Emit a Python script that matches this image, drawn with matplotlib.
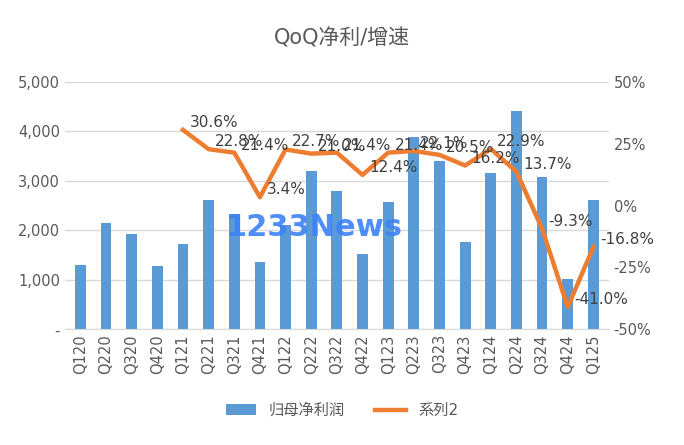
import glob
import matplotlib.pyplot as plt
from matplotlib import font_manager
from matplotlib.ticker import FuncFormatter

# locate a CJK sans font file and register it by its real name
paths = [f.fname for f in font_manager.fontManager.ttflist if 'CJK' in f.fname or 'CJK' in f.name]
paths += glob.glob('/usr/share/fonts/**/*CJK*', recursive=True)
paths = sorted(set(paths), key=lambda p: ('Sans' not in p, 'SC' not in p, p))
family = ['DejaVu Sans']
for p in paths:
    try:
        font_manager.fontManager.addfont(p)
        family.append(font_manager.FontProperties(fname=p).get_name())
    except Exception:
        pass
plt.rcParams['font.family'] = family

quarters = ['Q120', 'Q220', 'Q320', 'Q420', 'Q121', 'Q221', 'Q321', 'Q421', 'Q122', 'Q222', 'Q322',
            'Q422', 'Q123', 'Q223', 'Q323', 'Q423', 'Q124', 'Q224', 'Q324', 'Q424', 'Q125']
profit = [1300, 2150, 1920, 1280, 1720, 2620, 2320, 1350, 2100, 3200, 2800,
          1520, 2570, 3880, 3400, 1760, 3150, 4420, 3080, 1020, 2620]
growth = [None, None, None, None, 30.6, 22.8, 21.4, 3.4, 22.7, 21.0, 21.4,
          12.4, 21.4, 22.1, 20.5, 16.2, 22.9, 13.7, -9.3, -41.0, -16.8]

fig = plt.figure(figsize=(6.84, 4.45), dpi=100)
ax = fig.add_axes([0.095, 0.26, 0.795, 0.556])
x = list(range(len(quarters)))
ax.bar(x, profit, width=0.42, color='#5b9bd5', label='归母净利润', zorder=2)
ax.set_ylim(0, 5000)
ax.set_yticks(range(0, 5001, 1000))
ax.yaxis.set_major_formatter(FuncFormatter(lambda v, p: '-' if v == 0 else f'{int(v):,}'))
ax.grid(axis='y', color='#d9d9d9', lw=1, zorder=0)
ax.set_xticks(x)
ax.set_xticklabels(quarters, rotation=90, fontsize=10.5, color='#595959')
ax.set_xlim(-0.6, len(quarters) - 0.4)
for s in ['top', 'right', 'left']:
    ax.spines[s].set_visible(False)
ax.spines['bottom'].set_color('#d9d9d9')
ax.tick_params(length=0, labelsize=10.5, colors='#595959')

ax2 = ax.twinx()
gx = [i for i, g in zip(x, growth) if g is not None]
gy = [g for g in growth if g is not None]
ax2.plot(gx, gy, color='#ed7d31', lw=3.2, label='系列2', zorder=3)
for i, g in zip(gx, gy):
    ax2.text(i + 0.25, g, f'{g:.1f}%', fontsize=11, color='#404040', va='bottom', ha='left')
ax2.set_ylim(-50, 50)
ax2.set_yticks(range(-50, 51, 25))
ax2.yaxis.set_major_formatter(FuncFormatter(lambda v, p: f'{int(v)}%'))
for s in ax2.spines.values():
    s.set_visible(False)
ax2.tick_params(length=0, labelsize=10.5, colors='#595959')

fig.text(0.5, 0.9, 'QoQ净利/增速', ha='center', fontsize=15, color='#595959')
fig.text(0.33, 0.47, '1233News', fontsize=22, color='#3b82f6', fontweight='bold', alpha=0.9)
h1, l1 = ax.get_legend_handles_labels()
h2, l2 = ax2.get_legend_handles_labels()
fig.legend(h1 + h2, l1 + l2, loc='lower center', bbox_to_anchor=(0.5, 0.03), ncol=2,
           frameon=False, fontsize=11, labelcolor='#595959')
fig.savefig('out.png')
